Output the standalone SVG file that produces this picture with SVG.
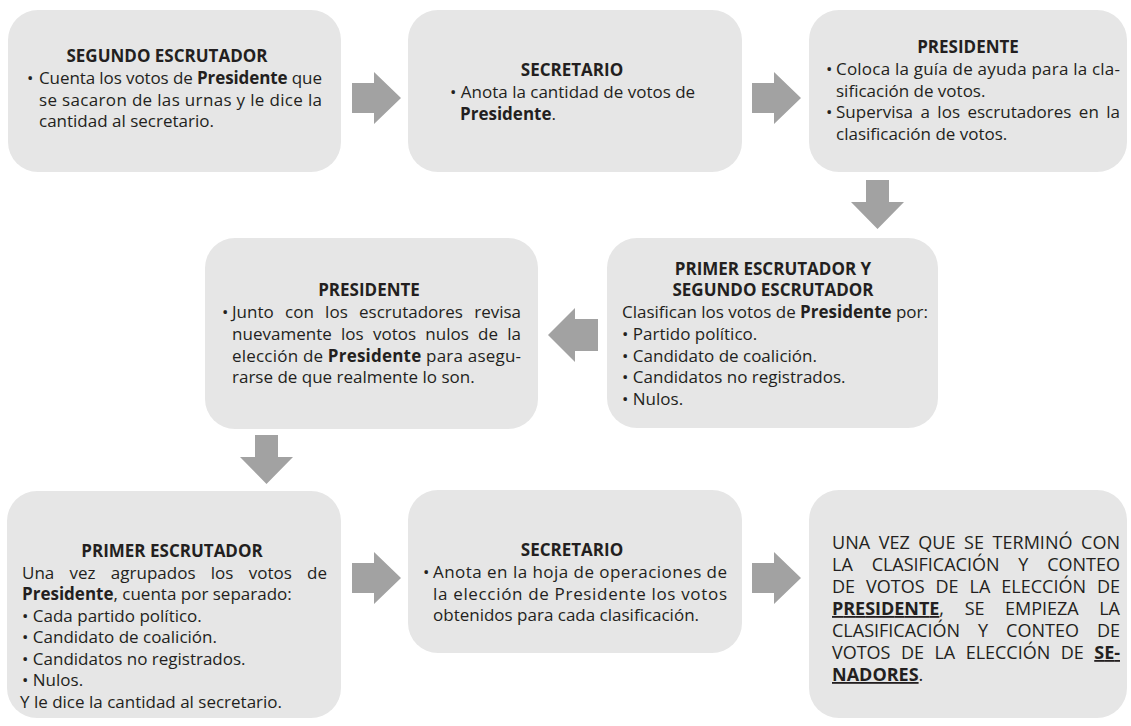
<svg xmlns="http://www.w3.org/2000/svg" width="1131" height="726" viewBox="0 0 1131 726">
<style>
.box{fill:#e6e6e6}
.arr{fill:#a2a2a2}
text{font-family:"Open Sans","Lato","Liberation Sans",sans-serif;font-size:17px;fill:#231f20}
.t{font-weight:700;text-anchor:middle}
.b{font-weight:700}
.u{font-weight:700;text-decoration:underline}
.c{font-size:18px}
</style>
<rect width="1131" height="726" fill="#ffffff"/>
<g id="connectors">
<path class="arr" d="M352,83H374V72L401,98L374,124V113H352Z"/>
<path class="arr" d="M752,83H774V72L801,98L774,124V113H752Z"/>
<path class="arr" d="M866,180H889V202H904L877.5,229L851,202H866Z"/>
<path class="arr" d="M598,319H575V308L548,335L575,362V351H598Z"/>
<path class="arr" d="M255,435H278V457H293L266.5,484L240,457H255Z"/>
<path class="arr" d="M352,563H374V552L401,578L374,604V593H352Z"/>
<path class="arr" d="M752,563H774V552L801,578L774,604V593H752Z"/>
</g>
<g id="n1">
<rect class="box" x="8" y="10" width="333" height="162" rx="30"/>
<text class="t" x="167" y="62">SEGUNDO ESCRUTADOR</text>
<text x="27" y="84">•</text>
<text x="39" y="84" textLength="283" lengthAdjust="spacing">Cuenta los votos de <tspan class="b">Presidente</tspan> que</text>
<text x="39" y="105.5" textLength="283" lengthAdjust="spacing">se sacaron de las urnas y le dice la</text>
<text x="39" y="127">cantidad al secretario.</text>
</g>
<g id="n2">
<rect class="box" x="408" y="10" width="334" height="162" rx="30"/>
<text class="t" x="572" y="76">SECRETARIO</text>
<text x="450" y="98">• Anota la cantidad de votos de</text>
<text x="460" y="119.5" class="b">Presidente<tspan font-weight="400">.</tspan></text>
</g>
<g id="n3">
<rect class="box" x="809" y="10" width="318" height="162" rx="30"/>
<text class="t" x="968" y="53">PRESIDENTE</text>
<text x="826" y="75">•</text>
<text x="836" y="75" textLength="284" lengthAdjust="spacing">Coloca la guía de ayuda para la cla-</text>
<text x="836" y="96.5">sificación de votos.</text>
<text x="826" y="118">•</text>
<text x="836" y="118" textLength="284" lengthAdjust="spacing" word-spacing="3">Supervisa a los escrutadores en la</text>
<text x="836" y="139.5">clasificación de votos.</text>
</g>
<g id="n4">
<rect class="box" x="607" y="238" width="331" height="190" rx="30"/>
<text class="t" x="773" y="275">PRIMER ESCRUTADOR Y</text>
<text class="t" x="773" y="296">SEGUNDO ESCRUTADOR</text>
<text x="622" y="318" textLength="306" lengthAdjust="spacing">Clasifican los votos de <tspan class="b">Presidente</tspan> por:</text>
<text x="622" y="340">• Partido político.</text>
<text x="622" y="361.5">• Candidato de coalición.</text>
<text x="622" y="383">• Candidatos no registrados.</text>
<text x="622" y="404.5">• Nulos.</text>
</g>
<g id="n5">
<rect class="box" x="205" y="238" width="333" height="191" rx="30"/>
<text class="t" x="369" y="296">PRESIDENTE</text>
<text x="222" y="318">•</text>
<text x="232" y="318" textLength="289" lengthAdjust="spacing" word-spacing="6.9">Junto con los escrutadores revisa</text>
<text x="232" y="340" textLength="289" lengthAdjust="spacing" word-spacing="4.8">nuevamente los votos nulos de la</text>
<text x="232" y="361.5" textLength="289" lengthAdjust="spacing">elección de <tspan class="b">Presidente</tspan> para asegu-</text>
<text x="232" y="383">rarse de que realmente lo son.</text>
</g>
<g id="n6">
<rect class="box" x="7" y="491" width="334" height="227" rx="30"/>
<text class="t" x="172" y="557">PRIMER ESCRUTADOR</text>
<text x="22" y="578.5" textLength="305" lengthAdjust="spacing" word-spacing="10.8">Una vez agrupados los votos de</text>
<text x="22" y="600"><tspan class="b">Presidente</tspan>, cuenta por separado:</text>
<text x="22" y="621.5">• Cada partido político.</text>
<text x="22" y="643">• Candidato de coalición.</text>
<text x="22" y="664.5">• Candidatos no registrados.</text>
<text x="22" y="686">• Nulos.</text>
<text x="20" y="707.5">Y le dice la cantidad al secretario.</text>
</g>
<g id="n7">
<rect class="box" x="408" y="490" width="334" height="163" rx="30"/>
<text class="t" x="572" y="556">SECRETARIO</text>
<text x="423" y="578">•</text>
<text x="433" y="578" textLength="294" lengthAdjust="spacing">Anota en la hoja de operaciones de</text>
<text x="433" y="599.5" textLength="294" lengthAdjust="spacing">la elección de Presidente los votos</text>
<text x="433" y="621">obtenidos para cada clasificación.</text>
</g>
<g id="n8">
<rect class="box" x="809" y="490" width="318" height="228" rx="30"/>
<text class="c" x="832" y="549" textLength="288" lengthAdjust="spacing" word-spacing="3.9">UNA VEZ QUE SE TERMINÓ CON</text>
<text class="c" x="832" y="571" textLength="288" lengthAdjust="spacing" word-spacing="14.2">LA CLASIFICACIÓN Y CONTEO</text>
<text class="c" x="832" y="593" textLength="288" lengthAdjust="spacing" word-spacing="6.3">DE VOTOS DE LA ELECCIÓN DE</text>
<text class="c" x="832" y="615" textLength="288" lengthAdjust="spacing" word-spacing="16"><tspan class="u">PRESIDENTE</tspan>, SE EMPIEZA LA</text>
<text class="c" x="832" y="637" textLength="288" lengthAdjust="spacing" word-spacing="13.3">CLASIFICACIÓN Y CONTEO DE</text>
<text class="c" x="832" y="659" textLength="288" lengthAdjust="spacing" word-spacing="5.8">VOTOS DE LA ELECCIÓN DE <tspan class="u">SE-</tspan></text>
<text class="c" x="832" y="681"><tspan class="u">NADORES</tspan>.</text>
</g>
</svg>
